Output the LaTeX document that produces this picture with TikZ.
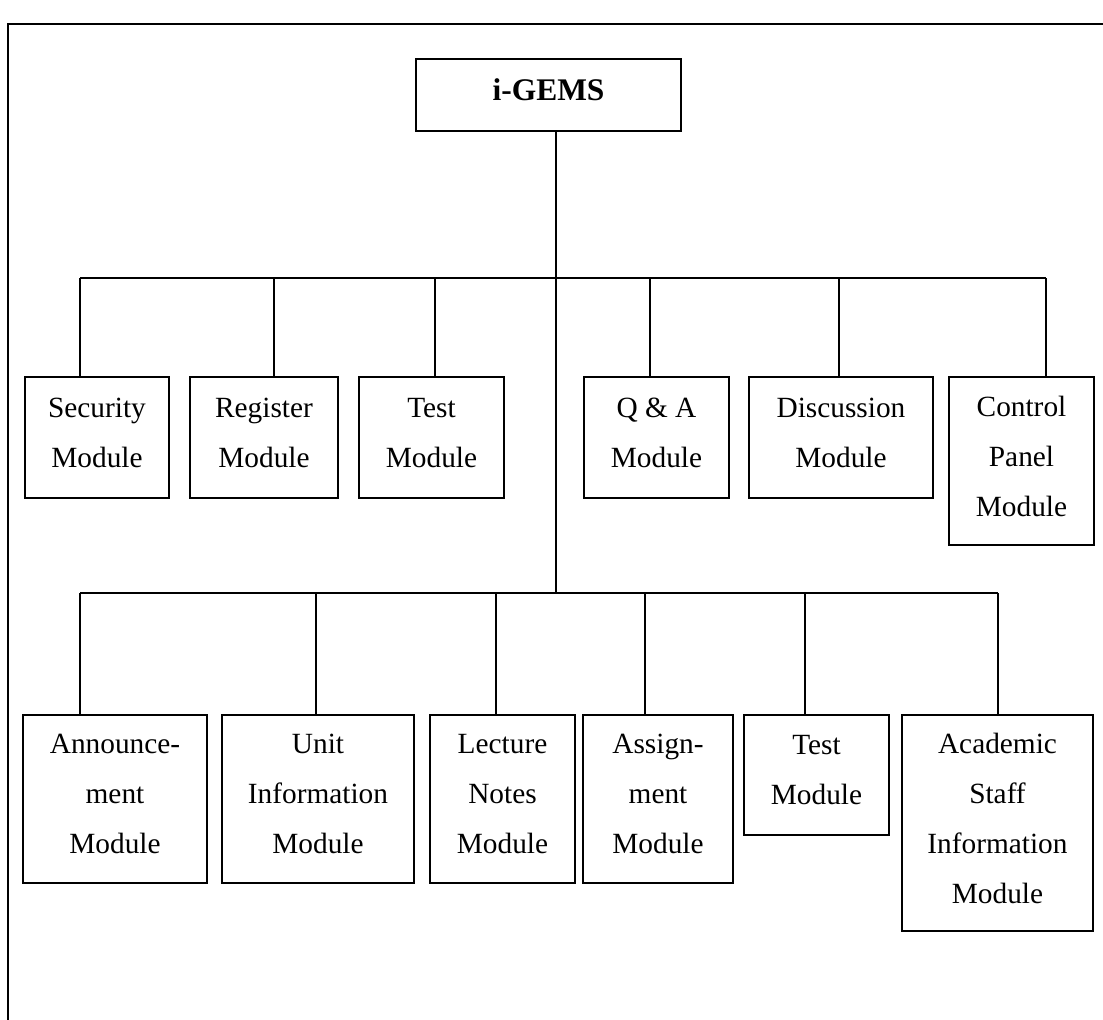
\documentclass[tikz,border=0pt]{standalone}
\usepackage{fontspec}
\setmainfont{Liberation Serif}
\begin{document}
% one unit = one pixel of a 1103 x 1020 canvas, y pointing down
\begin{tikzpicture}[x=0.75pt,y=-0.75pt,
  every path/.style={line width=1.1pt},
  modframe/.style={draw, line width=1.1pt, rectangle, inner sep=0pt, align=center,
    text depth=7.5pt, font=\fontsize{22}{37.5}\selectfont},
  rootframe/.style={modframe, font=\fontsize{23.6}{28}\selectfont\bfseries},
  link/.style={draw, line width=1.1pt}]
\useasboundingbox (0,0) rectangle (1103,1020);

% box given by its corners x1,y1,x2,y2
\newcommand{\modulebox}[7][modframe]{%
  \pgfmathsetmacro{\cxa}{(#3+#5)/2}%
  \pgfmathsetmacro{\cya}{(#4+#6)/2}%
  \node[#1, minimum width={(#5-#3)*0.75pt}, minimum height={(#6-#4)*0.75pt}]
    (#2) at (\cxa,\cya) {#7};}

% page frame
\coordinate (fa) at (8,24);
\coordinate (fb) at (1103,24);
\coordinate (fc) at (8,1020);
\draw[link] (fb) -- (fa) -- (fc);

% root
\modulebox[rootframe]{root}{416}{59}{681}{131}{i-GEMS}

% first row of modules
\modulebox{sec}{25}{377}{169}{498}{Security\\Module}
\modulebox{reg}{190}{377}{338}{498}{Register\\Module}
\modulebox{tsa}{359}{377}{504}{498}{Test\\Module}
\modulebox{qa}{584}{377}{729}{498}{Q \& A\\Module}
\modulebox{dis}{749}{377}{933}{498}{Discussion\\Module}
\modulebox{cp}{949}{377}{1094}{545}{Control\\Panel\\Module}

% second row of modules
\modulebox{ann}{23}{715}{207}{883}{Announce-\\ment\\Module}
\modulebox{uni}{222}{715}{414}{883}{Unit\\Information\\Module}
\modulebox{lec}{430}{715}{575}{883}{Lecture\\Notes\\Module}
\modulebox{asg}{583}{715}{733}{883}{Assign-\\ment\\Module}
\modulebox{tsb}{744}{715}{889}{835}{Test\\Module}
\modulebox{aca}{902}{715}{1093}{931}{Academic\\Staff\\Information\\Module}

% trunk
\coordinate (ma) at (556,278);
\coordinate (mb) at (556,593);
\draw[link] (ma |- root.south) -- (mb);

% first bus
\coordinate (pa) at (80,278);
\coordinate (pb) at (274,278);
\coordinate (pc) at (435,278);
\coordinate (pd) at (650,278);
\coordinate (pe) at (839,278);
\coordinate (pf) at (1046,278);
\draw[link] (pa) -- (pf);
\draw[link] (pa) -- (pa |- sec.north);
\draw[link] (pb) -- (pb |- reg.north);
\draw[link] (pc) -- (pc |- tsa.north);
\draw[link] (pd) -- (pd |- qa.north);
\draw[link] (pe) -- (pe |- dis.north);
\draw[link] (pf) -- (pf |- cp.north);

% second bus
\coordinate (qa0) at (80,593);
\coordinate (qb) at (316,593);
\coordinate (qc) at (496,593);
\coordinate (qd) at (645,593);
\coordinate (qe) at (805,593);
\coordinate (qf) at (998,593);
\draw[link] (qa0) -- (qf);
\draw[link] (qa0) -- (qa0 |- ann.north);
\draw[link] (qb) -- (qb |- uni.north);
\draw[link] (qc) -- (qc |- lec.north);
\draw[link] (qd) -- (qd |- asg.north);
\draw[link] (qe) -- (qe |- tsb.north);
\draw[link] (qf) -- (qf |- aca.north);
\end{tikzpicture}
\end{document}
